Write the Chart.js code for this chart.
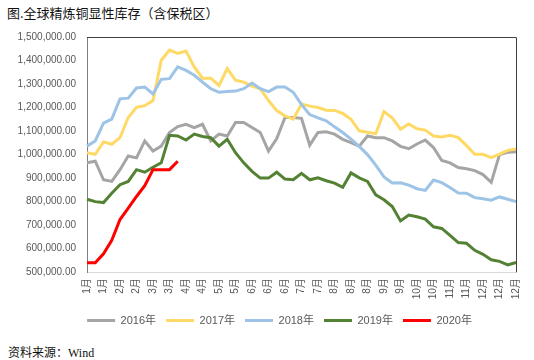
<!DOCTYPE html>
<html>
<head>
<meta charset="utf-8">
<script src="https://cdn.jsdelivr.net/npm/chart.js@4"></script>
<style>
  html, body { margin: 0; padding: 0; background: #fff; }
  #wrap { position: relative; width: 534px; height: 360px; overflow: hidden; }
  #title { position: absolute; left: 7px; top: 3px; font: 13px "Noto Sans CJK SC", sans-serif; color: #111; white-space: nowrap; }
  #source { position: absolute; left: 8px; top: 343px; font: 12px "Noto Sans CJK SC", sans-serif; color: #111; white-space: nowrap; }
  #source span { font-family: "Liberation Serif", serif; }
  #box { position: absolute; left: 0; top: 0; width: 534px; height: 336px; }
</style>
</head>
<body>
<div id="wrap">
  <div id="title">图.全球精炼铜显性库存（含保税区）</div>
  <div id="box"><canvas id="chart"></canvas></div>
  <div id="source">资料来源：<span>Wind</span></div>
</div>
<script>
/* weekly visible copper stocks, 53 weeks per year */
const tickLabels = ['1月','1月','2月','2月','3月','3月','4月','4月','5月','5月','6月','6月','6月','7月','7月','8月','8月','8月','9月','9月','10月','10月','11月','11月','12月','12月','12月'];
const seriesNames = ['2016年', '2017年', '2018年', '2019年', '2020年'];
const seriesColors = ['#a5a5a5', '#ffd966', '#9dc3e6', '#548235', '#ff0000'];

const y2016 = [965000, 972000, 893000, 886000, 936000, 994000, 986000, 1058000, 1015000, 1036000,
  1094000, 1119000, 1129000, 1115000, 1129000, 1058000, 1087000, 1079000, 1137000, 1137000,
  1115000, 1094000, 1015000, 1068000, 1158000, 1158000, 1154000, 1040000, 1094000, 1097000,
  1087000, 1065000, 1051000, 1036000, 1079000, 1072000, 1072000, 1058000, 1035000, 1025000,
  1045000, 1062000, 1030000, 975000, 965000, 945000, 940000, 932000, 915000, 882000,
  1000000, 1010000, 1012000];
const y2017 = [1008000, 1001000, 1054000, 1044000, 1072000, 1158000, 1201000, 1208000, 1230000, 1401000,
  1444000, 1430000, 1440000, 1373000, 1325000, 1325000, 1294000, 1366000, 1316000, 1308000,
  1291000, 1280000, 1230000, 1187000, 1165000, 1151000, 1215000, 1206000, 1200000, 1189000,
  1188000, 1175000, 1150000, 1101000, 1095000, 1089000, 1183000, 1156000, 1108000, 1130000,
  1110000, 1104000, 1079000, 1075000, 1082000, 1072000, 1038000, 1001000, 1001000, 987000,
  1002000, 1018000, 1024000];
const y2018 = [1036000, 1058000, 1134000, 1151000, 1237000, 1240000, 1283000, 1287000, 1258000, 1320000,
  1323000, 1373000, 1358000, 1337000, 1308000, 1280000, 1265000, 1268000, 1270000, 1280000,
  1304000, 1280000, 1268000, 1287000, 1287000, 1265000, 1213000, 1170000, 1156000, 1144000,
  1118000, 1094000, 1066000, 1035000, 1000000, 955000, 905000, 879000, 880000, 870000,
  855000, 848000, 892000, 881000, 860000, 837000, 836000, 817000, 812000, 806000,
  820000, 810000, 800000];
const y2019 = [810000, 800000, 796000, 836000, 872000, 886000, 936000, 925000, 946000, 965000,
  1082000, 1079000, 1062000, 1087000, 1077000, 1072000, 1036000, 1065000, 1008000, 965000,
  929000, 900000, 900000, 925000, 896000, 893000, 920000, 893000, 901000, 889000,
  879000, 861000, 922000, 901000, 886000, 829000, 808000, 779000, 718000, 743000,
  736000, 726000, 693000, 686000, 657000, 626000, 623000, 593000, 576000, 553000,
  546000, 531000, 541000];
const y2020 = [540000, 540000, 578000, 636000, 724000, 772000, 822000, 868000, 936000, 936000,
  936000, 972000];

const yMin = 500000, yMax = 1500000, yStep = 100000;

const weekLabels = y2016.map((_, i) => i % 2 === 0 ? tickLabels[i / 2] : '');
const allSeries = [y2016, y2017, y2018, y2019, y2020];

const font = 'Liberation Sans, "Noto Sans CJK SC", sans-serif';

// top and right frame lines, and nudge the legend under the plot
const frame = {
  id: 'frame',
  afterLayout(chart) {
    const lg = chart.legend;
    if (lg) { lg.left += 16; lg.right += 16; }
  },
  afterDraw(chart) {
    const { ctx, chartArea: a } = chart;
    ctx.save();
    ctx.strokeStyle = '#404040';
    ctx.lineWidth = 1;
    ctx.beginPath();
    ctx.moveTo(a.left, a.top + 0.5);
    ctx.lineTo(a.right + 0.5, a.top + 0.5);
    ctx.lineTo(a.right + 0.5, a.bottom);
    ctx.stroke();
    ctx.restore();
  }
};

new Chart(document.getElementById('chart'), {
  type: 'line',
  data: {
    labels: weekLabels,
    datasets: allSeries.map((d, i) => ({
      label: seriesNames[i],
      data: d,
      borderColor: seriesColors[i],
      backgroundColor: seriesColors[i],
      borderWidth: 3,
      pointRadius: 0,
      tension: 0,
      order: allSeries.length - i
    }))
  },
  options: {
    responsive: true,
    maintainAspectRatio: false,
    animation: false,
    layout: { padding: { top: 37, right: 7, left: 0, bottom: 0 } },
    plugins: {
      tooltip: { enabled: false },
      legend: {
        position: 'bottom',
        labels: {
          boxWidth: 28,
          boxHeight: 3,
          padding: 10,
          color: '#595959',
          font: { family: font, size: 11 },
          sort: (a, b) => a.datasetIndex - b.datasetIndex,
          generateLabels(chart) {
            return Chart.defaults.plugins.legend.labels.generateLabels(chart).map(l => ({ ...l, lineWidth: 0 }));
          }
        }
      }
    },
    scales: {
      x: {
        offset: false,
        grid: { display: false, drawTicks: false },
        border: { display: true, color: '#d9d9d9' },
        ticks: {
          autoSkip: false,
          minRotation: 90,
          maxRotation: 90,
          padding: 6,
          color: '#595959',
          font: { family: font, size: 10 },
          callback(v, i) { return weekLabels[i] || null; }
        },
        afterFit(s) { s.height = 32.8; }
      },
      y: {
        min: yMin,
        max: yMax,
        grid: { display: false },
        border: { display: true, color: '#7f7f7f' },
        ticks: {
          stepSize: yStep,
          color: '#595959',
          font: { family: font, size: 10 },
          callback: v => v.toLocaleString('en-US', { minimumFractionDigits: 2, maximumFractionDigits: 2 })
        },
        afterFit(s) { s.width = 87; }
      }
    }
  },
  plugins: [frame]
});
</script>
</body>
</html>
